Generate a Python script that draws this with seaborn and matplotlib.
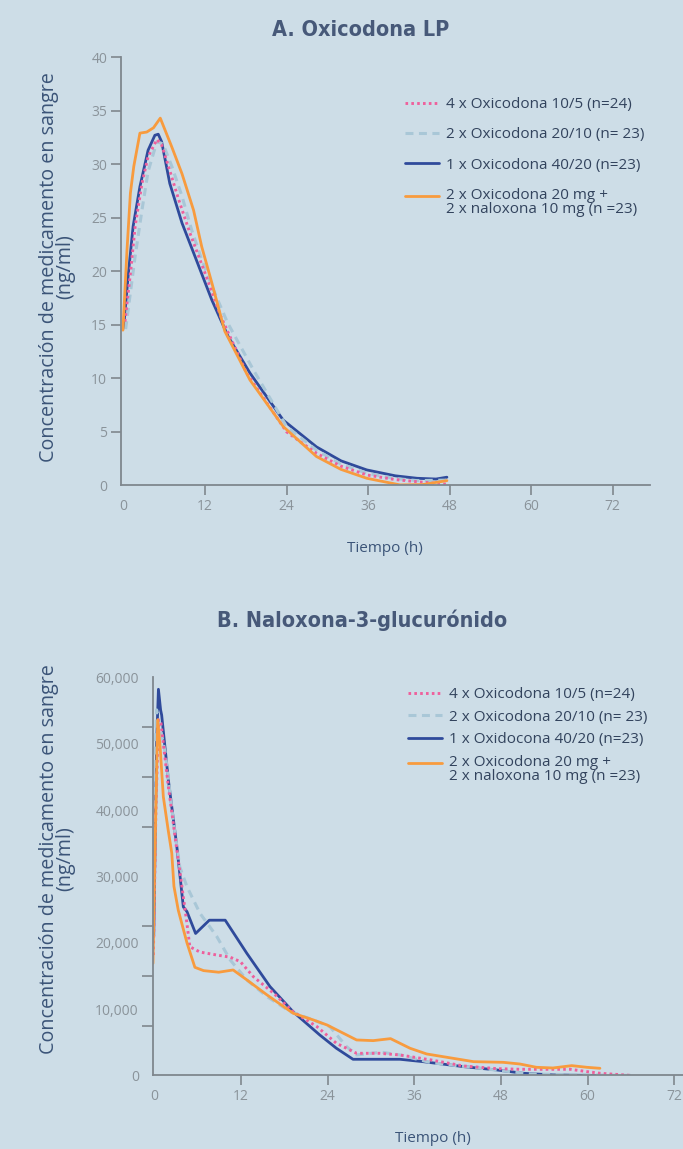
import numpy as np
import pandas as pd
import matplotlib
matplotlib.use("Agg")
import matplotlib.pyplot as plt
from matplotlib.ticker import FuncFormatter
from matplotlib import font_manager as fm
import seaborn as sns

# ---------------- data ----------------
# Panel A: Oxicodona LP (ng/ml vs hours)
a_pink_t = [0.2, 1.0, 1.7, 2.7, 3.6, 4.9, 5.6, 6.6, 8.1, 9.8, 12.0, 14.3, 18.1, 24.0, 28.4, 32.0, 35.8, 40.0, 43.2, 47.8]
a_pink_v = [15.3, 19.8, 24.2, 28.2, 30.7, 32.3, 31.8, 29.8, 26.7, 23.5, 19.8, 15.8, 10.5, 5.0, 3.0, 1.8, 0.98, 0.55, 0.35, 0.1]

a_lblue_t = [0.3, 1.7, 2.7, 3.6, 4.9, 5.8, 7.1, 8.6, 10.0, 11.5, 13.0, 15.3, 19.1, 24.0, 28.4, 32.0, 35.8, 40.0, 43.2, 47.6]
a_lblue_v = [14.6, 21.4, 25.7, 29.3, 32.1, 31.9, 29.8, 27.0, 23.9, 21.1, 18.6, 15.2, 10.8, 5.5, 3.3, 2.0, 1.14, 0.65, 0.45, 0.5]

a_blue_t = [0.0, 0.7, 1.4, 2.4, 3.6, 4.6, 5.1, 5.6, 6.8, 8.6, 10.5, 13.0, 15.4, 18.6, 23.5, 28.4, 32.0, 35.8, 40.0, 43.2, 46.0, 47.6]
a_blue_v = [14.7, 19.8, 24.2, 27.9, 31.3, 32.7, 32.8, 32.1, 28.2, 24.5, 21.4, 17.3, 13.9, 10.5, 6.1, 3.6, 2.3, 1.45, 0.9, 0.67, 0.6, 0.77]

a_orange_t = [-0.1, 0.5, 1.0, 1.5, 2.4, 3.4, 4.4, 5.4, 7.1, 8.6, 10.3, 11.5, 13.0, 14.9, 18.6, 23.5, 28.4, 32.0, 35.8, 40.7, 44.0, 47.6]
a_orange_v = [14.5, 22.0, 27.3, 29.8, 32.9, 33.0, 33.4, 34.3, 31.6, 29.1, 25.7, 22.3, 18.9, 14.4, 9.85, 5.5, 2.7, 1.5, 0.67, 0.05, 0.08, 0.45]

# Panel B: Naloxona-3-glucuronido
b_pink_t = [-0.15, 0.2, 0.55, 0.9, 1.93, 3.1, 3.8, 4.5, 4.9, 6.3, 8.6, 10.5, 11.9, 13.7, 16.5, 19.2, 22.5, 25.2, 28.0, 31.2, 34.0, 38.3, 42.8, 47.4, 50.6, 54.3, 57.6, 59.9, 61.7, 66.1]
b_pink_v = [18150, 40000, 53600, 53100, 43500, 34000, 28500, 22900, 19400, 18600, 18160, 17820, 17150, 14890, 12390, 9620, 7360, 4850, 3340, 3340, 3090, 2340, 1430, 1030, 930, 930, 930, 580, 330, 0]

b_lblue_t = [-0.2, 0.0, 0.3, 1.5, 2.6, 3.5, 4.5, 6.3, 8.6, 10.5, 12.8, 15.6, 18.8, 22.0, 24.3, 26.6, 28.0, 30.0, 31.5, 34.0, 38.3, 45.1, 52.1, 58.0, 66.5]
b_lblue_v = [20000, 45000, 55100, 48600, 38500, 31470, 28460, 24450, 21000, 17400, 14390, 11880, 9620, 8370, 7360, 4350, 3090, 3340, 3500, 3090, 1930, 1080, 230, 100, 0]

b_blue_t = [-0.1, 0.3, 0.55, 0.85, 1.0, 1.93, 3.1, 4.0, 4.5, 5.7, 7.6, 9.8, 12.8, 16.0, 19.2, 22.9, 25.2, 27.5, 34.0, 37.2, 42.8, 47.4, 51.1, 55.2, 61.0]
b_blue_v = [21000, 50000, 58200, 55100, 54300, 44500, 34500, 25400, 24700, 21400, 23400, 23400, 18400, 13400, 9600, 6100, 4100, 2440, 2440, 2080, 1330, 830, 330, 80, 0]

b_orange_t = [-0.2, 0.0, 0.45, 0.78, 1.23, 1.9, 2.4, 2.7, 3.3, 4.5, 5.6, 6.8, 8.9, 10.9, 12.8, 15.6, 19.2, 22.0, 23.9, 28.0, 30.3, 32.7, 35.4, 37.7, 40.5, 44.2, 48.3, 50.6, 52.9, 55.2, 57.8, 59.9, 61.7]
b_orange_v = [16900, 30000, 53600, 49600, 42000, 37000, 33500, 28500, 24900, 20000, 16300, 15800, 15560, 15900, 14400, 12130, 9380, 8370, 7610, 5350, 5250, 5550, 4100, 3240, 2740, 2080, 1980, 1730, 1230, 1130, 1480, 1230, 1080]

labels_a = ["4 x Oxicodona 10/5 (n=24)", "2 x Oxicodona 20/10 (n= 23)",
            "1 x Oxicodona 40/20 (n=23)", "2 x Oxicodona 20 mg +\n2 x naloxona 10 mg (n =23)"]
labels_b = ["4 x Oxicodona 10/5 (n=24)", "2 x Oxicodona 20/10 (n= 23)",
            "1 x Oxidocona 40/20 (n=23)", "2 x Oxicodona 20 mg +\n2 x naloxona 10 mg (n =23)"]
x_ticks = [0, 12, 24, 36, 48, 60, 72]
a_yticks = [0, 5, 10, 15, 20, 25, 30, 35, 40]
b_ylabels = [0, 10000, 20000, 30000, 40000, 50000, 60000]
b_yminor = [7500, 15000, 22500, 30000, 37500, 45000, 52500, 60000]

# ---------------- style ----------------
BG = "#cddde7"
SPINE = "#7f878e"
TICKLBL = "#8a939a"
NAVY = "#3b5478"
LEGTXT = "#32435d"
TITLE = "#475979"
PINK = "#ef5f9c"
LBLUE = "#a9c7d7"
BLUE = "#2f4a9b"
ORANGE = "#f89b3e"

sns.set_theme(style="white")
plt.rcParams["font.family"] = ["Open Sans", "DejaVu Sans"]

fig = plt.figure(figsize=(6.83, 11.49), dpi=100, facecolor=BG)
axA = fig.add_axes([0.1772, 0.5775, 0.7745, 0.3728])
axB = fig.add_axes([0.2236, 0.0640, 0.8218, 0.3465])

styles = {
    "pink": dict(color=PINK, linestyle=(0, (0.9, 1.1)), linewidth=2.1),
    "lblue": dict(color=LBLUE, linestyle=(0, (2.6, 1.8)), linewidth=2.2),
    "blue": dict(color=BLUE, linestyle="-", linewidth=2.0),
    "orange": dict(color=ORANGE, linestyle="-", linewidth=2.0),
}


def draw(ax, series):
    handles = {}
    for key, t, v in series:
        df = pd.DataFrame({"t": t, "v": v})
        sns.lineplot(data=df, x="t", y="v", ax=ax, sort=False, estimator=None,
                     legend=False, **styles[key])
        handles[key] = ax.get_lines()[-1]
    order = ["pink", "lblue", "blue", "orange"]
    return [handles[k] for k in order]


for ax in (axA, axB):
    ax.set_facecolor(BG)
    for s in ("top", "right"):
        ax.spines[s].set_visible(False)
    for s in ("left", "bottom"):
        ax.spines[s].set_color(SPINE)
        ax.spines[s].set_linewidth(1.3)

hA = draw(axA, [("blue", a_blue_t, a_blue_v), ("lblue", a_lblue_t, a_lblue_v),
                ("pink", a_pink_t, a_pink_v), ("orange", a_orange_t, a_orange_v)])
hB = draw(axB, [("blue", b_blue_t, b_blue_v), ("lblue", b_lblue_t, b_lblue_v),
                ("pink", b_pink_t, b_pink_v), ("orange", b_orange_t, b_orange_v)])

# axes A
axA.set_xlim(-0.38, 77.5)
axA.set_ylim(0, 40)
axA.set_xticks(x_ticks)
axA.set_yticks(a_yticks)
axA.tick_params(axis="both", which="major", direction="out", length=7, width=1.2,
                color=SPINE, labelcolor=TICKLBL, labelsize=10, pad=3,
                left=True, bottom=True)
axA.xaxis.get_major_ticks()[0].tick1line.set_visible(False)
axA.yaxis.get_major_ticks()[0].tick1line.set_visible(False)
axA.set_xlabel("")
axA.set_ylabel("")

# axes B
axB.set_xlim(-0.24, 77.5)
axB.set_ylim(0, 60000)
axB.set_xticks(x_ticks)
axB.set_yticks(b_ylabels)
axB.set_yticks(b_yminor, minor=True)
axB.yaxis.set_major_formatter(FuncFormatter(lambda v, p: f"{int(v):,}"))
axB.tick_params(axis="x", which="major", direction="out", length=7, width=1.2,
                color=SPINE, labelcolor=TICKLBL, labelsize=10, pad=3, bottom=True)
axB.xaxis.get_major_ticks()[0].tick1line.set_visible(False)
axB.tick_params(axis="y", which="major", length=0, labelcolor=TICKLBL, labelsize=10,
                pad=10, left=True)
axB.tick_params(axis="y", which="minor", direction="out", length=8, width=1.2,
                color=SPINE, left=True)
axB.set_xlabel("")
axB.set_ylabel("")

# titles (condensed bold)
tprops = fm.FontProperties(family="DejaVu Sans", weight="bold", stretch="condensed", size=15.5)
fig.text(361 / 683, 1 - 30 / 1149, "A. Oxicodona LP", ha="center", va="center",
         fontproperties=tprops, color=TITLE)
fig.text(362 / 683, 1 - 620 / 1149, "B. Naloxona-3-glucurónido", ha="center", va="center",
         fontproperties=tprops, color=TITLE)

ylab = "Concentración de medicamento en sangre\n(ng/ml)"
fig.text(57 / 683, 1 - 267 / 1149, ylab, rotation=90, ha="center", va="center",
         multialignment="center", fontsize=14.2, color=NAVY, linespacing=0.78)
fig.text(57 / 683, 1 - 859 / 1149, ylab, rotation=90, ha="center", va="center",
         multialignment="center", fontsize=14.2, color=NAVY, linespacing=0.78)

fig.text(385 / 683, 1 - 548 / 1149, "Tiempo (h)", ha="center", va="center",
         fontsize=11, color=NAVY)
fig.text(433 / 683, 1 - 1138 / 1149, "Tiempo (h)", ha="center", va="center",
         fontsize=11, color=NAVY)


def legend(ax, handles, labels, x, y, spacing):
    leg = ax.legend(handles, labels, loc="upper left", bbox_to_anchor=(x, y),
                    bbox_transform=fig.transFigure, frameon=False, borderpad=0,
                    borderaxespad=0, handlelength=2.2, handletextpad=0.5,
                    labelspacing=spacing, fontsize=11, labelcolor=LEGTXT)
    for t in leg.get_texts():
        t.set_linespacing(0.95)
    hl = leg.legend_handles[3]
    yd = np.asarray(hl.get_ydata(), dtype=float)
    hl.set_ydata(yd + 5.0)
    return leg


legend(axA, hA, labels_a, 405 / 683, 1 - 97 / 1149, 1.0)
legend(axB, hB, labels_b, 408 / 683, 1 - 687 / 1149, 0.5)

fig.savefig("out.png", dpi=100, facecolor=BG)
